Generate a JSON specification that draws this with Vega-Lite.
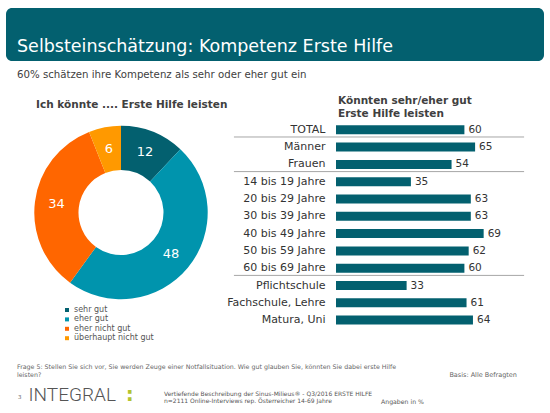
{
  "$schema": "https://vega.github.io/schema/vega-lite/v6.json",
  "padding": {"left": 5, "top": 7, "right": 0, "bottom": 0},
  "background": "white",
  "config": {"view": {"stroke": null}, "font": "DejaVu Sans"},
  "bounds": "flush",
  "spacing": 100,
  "hconcat": [
    {
      "width": 230,
      "height": 409,
      "layer": [
        {"data": {"values": [{}]}, "mark": {"type": "rect", "x": 0, "x2": 538, "y": 0, "y2": 53, "cornerRadius": 6, "color": "#03606f"}, "encoding": {}},
        {"data": {"values": [{}]}, "mark": {"type": "text", "x": 11, "y": 44, "align": "left", "baseline": "alphabetic", "fontSize": 17.5, "color": "white", "text": "Selbsteinschätzung: Kompetenz Erste Hilfe"}, "encoding": {}},
        {"data": {"values": [{}]}, "mark": {"type": "text", "x": 11, "y": 70, "align": "left", "baseline": "alphabetic", "fontSize": 10.2, "color": "#404040", "text": "60% schätzen ihre Kompetenz als sehr oder eher gut ein"}, "encoding": {}},
        {"data": {"values": [{}]}, "mark": {"type": "text", "x": 30, "y": 100, "align": "left", "baseline": "alphabetic", "fontSize": 10.5, "fontWeight": "bold", "color": "#404040", "text": "Ich könnte .... Erste Hilfe leisten"}, "encoding": {}},
        {
          "data": {"values": [
            {"k": "sehr gut", "v": 12, "o": 1},
            {"k": "eher gut", "v": 48, "o": 2},
            {"k": "eher nicht gut", "v": 34, "o": 3},
            {"k": "überhaupt nicht gut", "v": 6, "o": 4}
          ]},
          "layer": [
            {
              "mark": {"type": "arc", "innerRadius": 42.5, "outerRadius": 86.7},
              "encoding": {
                "theta": {"field": "v", "type": "quantitative", "stack": true},
                "order": {"field": "o", "type": "quantitative"},
                "color": {
                  "field": "k", "type": "nominal",
                  "scale": {"domain": ["sehr gut", "eher gut", "eher nicht gut", "überhaupt nicht gut"], "range": ["#03606f", "#0094ad", "#ff6600", "#ff9900"]},
                  "legend": {"orient": "none", "legendX": 57, "legendY": 298, "title": null, "symbolType": "square", "symbolSize": 16, "labelFontSize": 8, "labelColor": "#555555", "rowPadding": 1.4, "labelOffset": 3, "padding": 0}
                }
              }
            },
            {
              "mark": {"type": "text", "radius": 65, "fill": "white", "fontSize": 13},
              "encoding": {
                "theta": {"field": "v", "type": "quantitative", "stack": true},
                "order": {"field": "o", "type": "quantitative"},
                "text": {"field": "v", "type": "quantitative"}
              }
            }
          ]
        },
        {"data": {"values": [{}]}, "mark": {"type": "text", "x": 11, "y": 360.5, "align": "left", "baseline": "alphabetic", "fontSize": 6.3, "lineHeight": 8, "color": "#666666", "text": ["Frage 5: Stellen Sie sich vor, Sie werden Zeuge einer Notfallsituation. Wie gut glauben Sie, könnten Sie dabei erste Hilfe", "leisten?"]}, "encoding": {}},
        {"data": {"values": [{}]}, "mark": {"type": "text", "x": 511, "y": 369, "align": "right", "baseline": "alphabetic", "fontSize": 6.5, "color": "#666666", "text": "Basis: Alle Befragten"}, "encoding": {}},
        {"data": {"values": [{}]}, "mark": {"type": "rule", "x": 0, "x2": 540, "y": 373.7, "y2": 373.7, "strokeWidth": 2.5, "color": "#03606f"}, "encoding": {}},
        {"data": {"values": [{}]}, "mark": {"type": "text", "x": 12, "y": 391, "align": "left", "baseline": "alphabetic", "fontSize": 5.5, "color": "#666666", "text": "3"}, "encoding": {}},
        {"data": {"values": [{}]}, "mark": {"type": "text", "x": 22.5, "y": 393, "align": "left", "baseline": "alphabetic", "font": "Roboto", "fontWeight": 300, "fontSize": 19, "color": "#555555", "text": "INTEGRAL"}, "encoding": {}},
        {"data": {"values": [{}]}, "mark": {"type": "text", "x": 119.7, "y": 393, "align": "left", "baseline": "alphabetic", "fontWeight": "bold", "fontSize": 20, "color": "#b3c42f", "text": ":"}, "encoding": {}},
        {"data": {"values": [{}]}, "mark": {"type": "text", "x": 158, "y": 387.5, "align": "left", "baseline": "alphabetic", "fontSize": 6.0, "lineHeight": 7.5, "color": "#555555", "text": ["Vertiefende Beschreibung der Sinus-Milieus® - Q3/2016 ERSTE HILFE", "n=2111 Online-Interviews rep. Österreicher 14-69 Jahre"]}, "encoding": {}},
        {"data": {"values": [{}]}, "mark": {"type": "text", "x": 375, "y": 395.5, "align": "left", "baseline": "alphabetic", "fontSize": 6.2, "color": "#555555", "text": "Angaben in %"}, "encoding": {}}
      ]
    },
    {
      "width": 214,
      "height": 321,
      "layer": [
        {
          "data": {"values": [
            {"cat": "TOTAL", "v": 60},
            {"cat": "Männer", "v": 65},
            {"cat": "Frauen", "v": 54},
            {"cat": "14 bis 19 Jahre", "v": 35},
            {"cat": "20 bis 29 Jahre", "v": 63},
            {"cat": "30 bis 39 Jahre", "v": 63},
            {"cat": "40 bis 49 Jahre", "v": 69},
            {"cat": "50 bis 59 Jahre", "v": 62},
            {"cat": "60 bis 69 Jahre", "v": 60},
            {"cat": "Pflichtschule", "v": 33},
            {"cat": "Fachschule, Lehre", "v": 61},
            {"cat": "Matura, Uni", "v": 64}
          ]},
          "encoding": {
            "y": {
              "field": "cat", "type": "nominal", "sort": null,
              "scale": {"domain": ["TOTAL", "Männer", "Frauen", "14 bis 19 Jahre", "20 bis 29 Jahre", "30 bis 39 Jahre", "40 bis 49 Jahre", "50 bis 59 Jahre", "60 bis 69 Jahre", "Pflichtschule", "Fachschule, Lehre", "Matura, Uni"], "paddingInner": 0.48, "paddingOuter": 0.24, "range": [113.15, 320.75]},
              "axis": {"title": null, "ticks": false, "tickSize": 0, "domain": false, "labelFontSize": 11, "labelColor": "#333333", "labelPadding": 11, "labelLimit": 200}
            },
            "x": {"field": "v", "type": "quantitative", "scale": {"domain": [0, 100]}, "axis": null}
          },
          "layer": [
            {"mark": {"type": "bar", "color": "#03606f"}},
            {"mark": {"type": "text", "align": "left", "baseline": "middle", "dx": 4, "fontSize": 10.5, "color": "#333333"}, "encoding": {"text": {"field": "v", "type": "quantitative"}}}
          ]
        },
        {
          "data": {"values": [{"cat": "TOTAL"}, {"cat": "Frauen"}, {"cat": "60 bis 69 Jahre"}]},
          "mark": {"type": "rule", "color": "#a6a6a6", "strokeWidth": 1},
          "encoding": {
            "y": {"field": "cat", "type": "nominal", "bandPosition": 1.3},
            "x": {"datum": -47.7},
            "x2": {"datum": 87.9}
          }
        },
        {"data": {"values": [{}]}, "mark": {"type": "text", "x": 2, "y": 96.3, "align": "left", "baseline": "alphabetic", "fontSize": 10.5, "fontWeight": "bold", "lineHeight": 12.7, "color": "#404040", "text": ["Könnten sehr/eher gut", "Erste Hilfe leisten"]}, "encoding": {}}
      ]
    }
  ]
}
